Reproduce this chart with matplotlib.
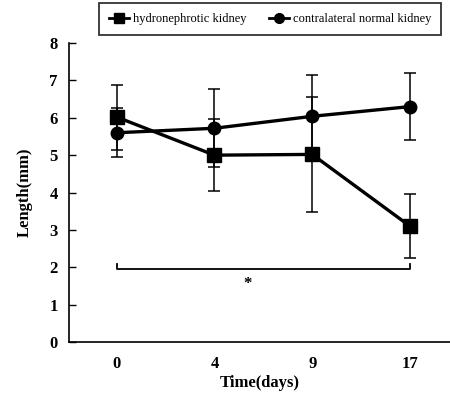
import numpy as np
import matplotlib.pyplot as plt
from matplotlib.lines import Line2D

plt.rcParams['font.family'] = ['Liberation Serif', 'DejaVu Serif']

days = ['0', '4', '9', '17']
hydro = [6.02, 5.0, 5.02, 3.1]
hydro_sd = [0.87, 0.96, 1.54, 0.86]
normal = [5.6, 5.72, 6.04, 6.3]
normal_sd = [0.65, 1.04, 1.1, 0.9]
sig_level = 1.94
sig_label = '*'

x = np.arange(len(days))

fig = plt.figure(figsize=(4.5, 3.99), dpi=100)
ax = fig.add_axes([0.153, 0.143, 0.847, 0.749])

ax.errorbar(x, hydro, yerr=hydro_sd, color='black', marker='s', markersize=9.5,
            linewidth=2.4, elinewidth=1.1, capsize=4, capthick=1.1, zorder=3)
ax.errorbar(x, normal, yerr=normal_sd, color='black', marker='o', markersize=9,
            linewidth=2.4, elinewidth=1.1, capsize=4, capthick=1.1, zorder=3)

# significance bracket between first and last day
ax.plot([x[0], x[0], x[-1], x[-1]], [sig_level + 0.14, sig_level, sig_level, sig_level + 0.14],
        color='black', linewidth=1.3)
ax.text(1.34, sig_level - 0.4, sig_label, ha='center', va='center', fontsize=12, fontweight='bold')

ax.set_xlim(-0.49, 3.41)
ax.set_ylim(0, 8)
ax.set_yticks(range(0, 9))
ax.set_xticks(x)
ax.set_xticklabels(days)
ax.tick_params(axis='y', direction='in', length=5, width=1, labelsize=12, pad=8)
ax.tick_params(axis='x', length=0, labelsize=12, pad=10)
for lab in ax.get_xticklabels() + ax.get_yticklabels():
    lab.set_fontweight('bold')
ax.spines['top'].set_visible(False)
ax.spines['right'].set_visible(False)
ax.spines['left'].set_linewidth(1.2)
ax.spines['bottom'].set_linewidth(1.2)

ax.set_xlabel('Time(days)', fontsize=12, fontweight='bold', labelpad=2)
ax.set_ylabel('Length(mm)', fontsize=12, fontweight='bold', labelpad=12)

handles = [Line2D([], [], color='black', marker='s', markersize=7, linewidth=2),
           Line2D([], [], color='black', marker='o', markersize=7, linewidth=2)]
labels = ['hydronephrotic kidney', 'contralateral normal kidney']
leg = fig.legend(handles, labels, loc='center', bbox_to_anchor=(0.6, 0.952), ncol=2,
                 fontsize=9, frameon=True, fancybox=False, edgecolor='black',
                 handlelength=1.6, handletextpad=0.3, columnspacing=1.8,
                 borderpad=0.8, borderaxespad=0)
leg.get_frame().set_linewidth(1.3)

fig.savefig('out.png', dpi=100)
